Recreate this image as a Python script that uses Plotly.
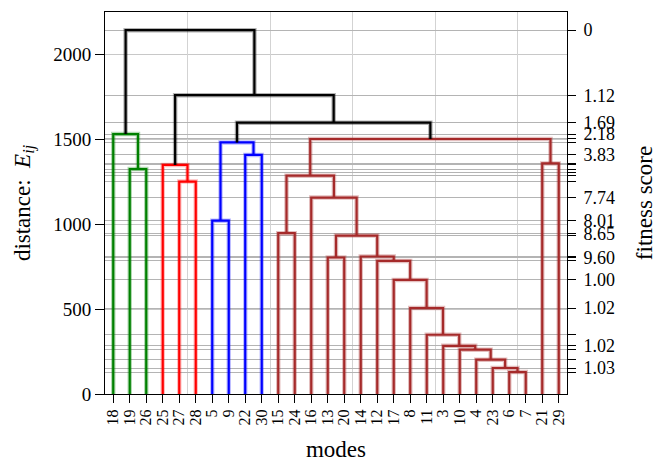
import plotly.graph_objects as go

# ---------------- data ----------------
leaf_labels = ["18", "19", "26", "25", "27", "28", "5", "9", "22", "30", "15", "24",
               "16", "13", "20", "14", "12", "17", "8", "11", "3", "10", "4", "23",
               "6", "7", "21", "29"]

# merges: (left child, right child, height); children are leaf labels or "c<k>"
merge_left = ["6", "23", "4", "10", "3", "11", "8", "17", "12", "13", "14", "c9", "15",
              "5", "16", "27", "c12", "19", "25", "21", "22", "c13", "c16", "18", "c21",
              "c18", "c23"]
merge_right = ["7", "c0", "c1", "c2", "c3", "c4", "c5", "c6", "c7", "20", "c8", "c10", "24",
               "9", "c11", "28", "c14", "26", "c15", "29", "30", "c20", "c19", "c17", "c22",
               "c24", "c25"]
merge_height = [129, 153, 202, 261, 284, 349, 506, 672, 784, 804, 810, 933, 947,
                1021, 1157, 1251, 1286, 1325, 1349, 1358, 1408, 1482, 1502, 1531, 1598,
                1760, 2143]
merge_group = ["brown"] * 13 + ["blue", "brown", "red", "brown", "green", "red", "brown",
                                "blue", "blue", "brown", "green", "black", "black", "black"]

# right axis (fitness score) ticks and labels
fit_tick_vals = merge_height + [1303]
fit_label_vals = [2143, 1760, 1598, 1531, 1408, 1157, 1021, 947, 804, 672, 506, 284, 153]
fit_label_text = ["0", "1.12", "1.69", "2.18", "3.83", "7.74", "8.01", "8.65", "9.60",
                  "1.00", "1.02", "1.02", "1.03"]

left_ticks = [0, 500, 1000, 1500, 2000]
vgrid_vals = [50, 100, 150, 200, 250]

# ---------------- geometry from data ----------------
pos = {lab: (5 + 10 * i, 0.0) for i, lab in enumerate(leaf_labels)}
segs = {}
for k, (a, b, h, g) in enumerate(zip(merge_left, merge_right, merge_height, merge_group)):
    xa, ya = pos[a]
    xb, yb = pos[b]
    segs.setdefault(g, ([], []))
    xs, ys = segs[g]
    xs += [xa, xa, xb, xb, None]
    ys += [ya, h, h, yb, None]
    pos["c%d" % k] = ((xa + xb) / 2, h)

core = {"green": "#008000", "red": "#ff0000", "blue": "#0000ff",
        "brown": "#a52a2a", "black": "#000000"}
halo = {"green": "rgba(0,128,0,0.3)", "red": "rgba(255,0,0,0.25)",
        "blue": "rgba(0,0,255,0.25)", "brown": "rgba(165,42,42,0.3)",
        "black": "rgba(0,0,0,0.3)"}

fig = go.Figure()
# invisible trace to activate the secondary axes
fig.add_trace(go.Scatter(x=[0], y=[0], xaxis="x2", yaxis="y2", mode="markers",
                         marker=dict(opacity=0), showlegend=False, hoverinfo="skip"))
for g in ["green", "red", "blue", "brown", "black"]:
    xs, ys = segs[g]
    fig.add_trace(go.Scatter(x=xs, y=ys, mode="lines", line=dict(color=halo[g], width=4.5),
                             showlegend=False, hoverinfo="skip"))
    fig.add_trace(go.Scatter(x=xs, y=ys, mode="lines", line=dict(color=core[g], width=2.2),
                             showlegend=False, hoverinfo="skip"))

tick_text = [fit_label_text[fit_label_vals.index(v)] if v in fit_label_vals else ""
             for v in fit_tick_vals]

font_family = "Liberation Serif"
fig.update_layout(
    width=657, height=454,
    margin=dict(l=97, r=98, t=4, b=68, autoexpand=False),
    paper_bgcolor="white", plot_bgcolor="white",
    font=dict(family=font_family, color="black", size=18),
    showlegend=False,
    xaxis=dict(range=[0, 280], tickmode="array", automargin=False,
               tickvals=[5 + 10 * i for i in range(len(leaf_labels))],
               ticktext=leaf_labels, tickangle=-90, tickfont=dict(size=16),
               ticks="outside", ticklen=8, tickcolor="black",
               showgrid=False, zeroline=False, showline=True, linecolor="black",
               linewidth=1, mirror=True,
               title=dict(text="modes", font=dict(size=23), standoff=20)),
    xaxis2=dict(range=[0, 280], overlaying="x", tickmode="array", tickvals=vgrid_vals,
                showticklabels=False, ticks="", showgrid=True, gridcolor="#d3d3d3",
                gridwidth=1, zeroline=False, showline=False, automargin=False),
    yaxis=dict(range=[0, 2250], tickmode="array", tickvals=left_ticks, automargin=False,
               ticks="outside", ticklen=9, tickcolor="black", tickfont=dict(size=19),
               showgrid=True, gridcolor="#c8c8c8", gridwidth=1, zeroline=False,
               showline=True, linecolor="black", linewidth=1,
               title=dict(text="distance:  <i>E</i><sub><i>ij</i></sub>",
                          font=dict(size=23), standoff=16)),
    yaxis2=dict(range=[0, 2250], overlaying="y", side="right", tickmode="array",
                tickvals=fit_tick_vals, ticktext=tick_text, ticklabelstandoff=4,
                automargin=False,
                ticks="outside", ticklen=8, tickcolor="black", tickfont=dict(size=18),
                showgrid=True, gridcolor="#b4b4b4", gridwidth=1, zeroline=False,
                showline=True, linecolor="black", linewidth=1,
                title=dict(text="fitness score", font=dict(size=23), standoff=21)),
)

fig.write_html("out.html")
